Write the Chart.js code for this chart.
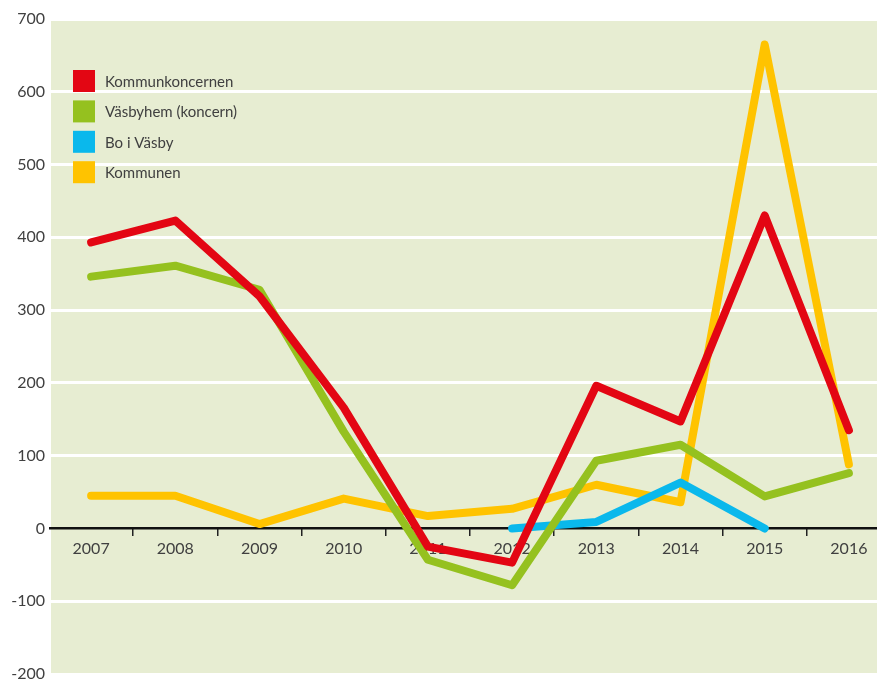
<!DOCTYPE html>
<html>
<head>
<meta charset="utf-8">
<script src="https://cdn.jsdelivr.net/npm/chart.js@4.4.0/dist/chart.umd.min.js"></script>
<style>
  html, body { margin: 0; padding: 0; background: #fff; overflow: hidden; }
  #wrap { position: relative; width: 895px; height: 690px; }
</style>
</head>
<body>
<div id="wrap"><canvas id="chart"></canvas></div>
<script>
// years on the x axis
const years = ['2007', '2008', '2009', '2010', '2011', '2012', '2013', '2014', '2015', '2016'];

// values
const kommunkoncernen = [393, 423, 319, 166, -25, -47, 196, 147, 430, 135];
const vasbyhem = [346, 361, 328, 133, -43, -78, 93, 115, 44, 76];
const boIVasby = [null, null, null, null, null, 0, 9, 63, 0, null];
const kommunen = [45, 45, 6, 41, 17, 27, 60, 36, 665, 88];

const yMin = -200;
const yMax = 700;
const yStep = 100;

const textColor = '#404040';
const fontFamily = 'Lato, "Open Sans", sans-serif';

const series = [
    { label: 'Kommunkoncernen', data: kommunkoncernen, color: '#e30613' },
    { label: 'Väsbyhem (koncern)', data: vasbyhem, color: '#95c11f' },
    { label: 'Bo i Väsby', data: boIVasby, color: '#0ab8ec' },
    { label: 'Kommunen', data: kommunen, color: '#ffc300' },
];

// light green plot background, drawn before everything else
const backgroundPlugin = {
    id: 'plotBackground',
    beforeDraw(chart) {
        const ctx = chart.ctx;
        const area = chart.chartArea;
        ctx.save();
        ctx.fillStyle = '#e7edd2';
        ctx.fillRect(51, area.top, chart.width - 51, area.bottom - area.top + 1);
        ctx.restore();
    }
};

// legend sits inside the plot, top left
const legendPlugin = {
    id: 'innerLegend',
    afterDraw(chart) {
        const ctx = chart.ctx;
        ctx.save();
        ctx.font = '15px ' + fontFamily;
        ctx.textBaseline = 'middle';
        chart.data.datasets.forEach((ds, i) => {
            const cy = 81 + i * 30.4;
            ctx.fillStyle = ds.borderColor;
            ctx.fillRect(73, cy - 11, 22, 22);
            ctx.fillStyle = textColor;
            ctx.fillText(ds.label, 105, cy + 1);
        });
        ctx.restore();
    }
};

new Chart(document.getElementById('chart'), {
    type: 'line',
    data: {
        labels: years,
        datasets: series.map(s => ({
            label: s.label,
            data: s.data,
            borderColor: s.color,
            backgroundColor: s.color,
            borderWidth: 8,
            borderCapStyle: 'round',
            borderJoinStyle: 'round',
            pointRadius: 0,
            pointHoverRadius: 0,
            tension: 0,
            fill: false,
            spanGaps: false,
        }))
    },
    options: {
        responsive: true,
        maintainAspectRatio: false,
        animation: false,
        events: [],
        layout: {
            padding: { left: 0, right: 4, top: 19, bottom: 16 }
        },
        plugins: {
            legend: { display: false },
            tooltip: { enabled: false },
        },
        scales: {
            x: {
                type: 'category',
                position: { y: 0 },
                offset: true,
                grid: {
                    offset: true,
                    drawOnChartArea: false,
                    drawTicks: true,
                    tickLength: 8,
                    color: ctx => ctx.index === 0 ? 'rgba(0,0,0,0)' : '#222',
                    lineWidth: 1.5,
                },
                border: { display: false },
                ticks: {
                    color: textColor,
                    font: { family: fontFamily, size: 16 },
                    padding: 3,
                    maxRotation: 0,
                    autoSkip: false,
                },
            },
            y: {
                min: yMin,
                max: yMax,
                grid: {
                    drawTicks: false,
                    color: ctx => ctx.tick && ctx.tick.value === 0 ? '#111' : '#ffffff',
                    lineWidth: ctx => ctx.tick && ctx.tick.value === 0 ? 2.5 : 3,
                },
                border: { display: false },
                ticks: {
                    stepSize: yStep,
                    color: textColor,
                    font: { family: fontFamily, size: 16 },
                    padding: 4,
                },
                afterFit(scale) {
                    scale.width = 49;
                },
            },
        },
    },
    plugins: [backgroundPlugin, legendPlugin],
});
</script>
</body>
</html>
